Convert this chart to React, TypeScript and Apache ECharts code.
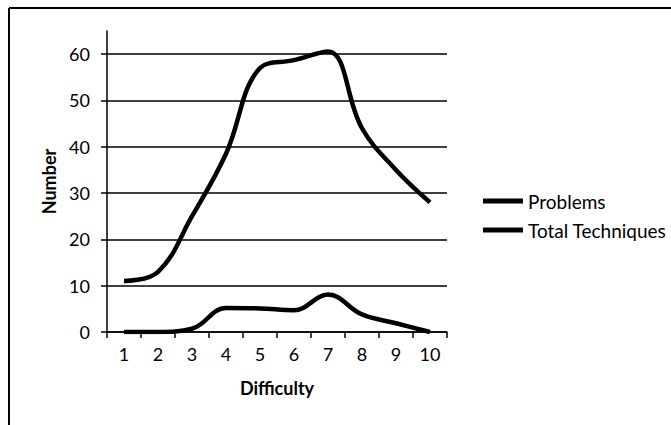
import React, { useEffect, useRef } from "react";
import * as echarts from "echarts";

const categories = ["1", "2", "3", "4", "5", "6", "7", "8", "9", "10"];
const problems = [11, 13, 25, 38.5, 57, 58.7, 60.6, 44, 35, 28];
const totalTechniques = [0, 0, 0.7, 5.2, 5.1, 4.7, 8.1, 3.8, 1.9, 0];
const seriesNames = ["Problems", "Total Techniques"];

const FONT = "Lato, 'Open Sans', sans-serif";

export default function App() {
  const ref = useRef<HTMLDivElement>(null);
  useEffect(() => {
    if (!ref.current) return;
    const chart = echarts.init(ref.current, undefined, { renderer: "svg" });
    chart.setOption({
      animation: false,
      backgroundColor: "#fff",
      textStyle: { fontFamily: FONT, color: "#000" },
      grid: { left: 107, right: 224, top: 31, bottom: 93, containLabel: false },
      graphic: [
        { type: "line", shape: { x1: 9, y1: 8, x2: 671, y2: 8 }, style: { stroke: "#000", lineWidth: 2 } },
        { type: "line", shape: { x1: 9, y1: 8, x2: 9, y2: 425 }, style: { stroke: "#000", lineWidth: 2 } },
      ],
      legend: {
        orient: "vertical",
        left: 478,
        top: 185,
        itemWidth: 40,
        itemHeight: 5,
        itemGap: 7,
        icon: "rect",
        textStyle: { fontFamily: FONT, fontSize: 19, color: "#000", lineHeight: 22 },
        data: seriesNames,
      },
      xAxis: {
        type: "category",
        data: categories,
        boundaryGap: true,
        name: "Difficulty",
        nameLocation: "middle",
        nameGap: 47,
        nameTextStyle: { fontFamily: FONT, fontWeight: "bold", fontSize: 18, color: "#000" },
        axisLine: { lineStyle: { color: "#000", width: 1.5 } },
        axisTick: { show: true, alignWithLabel: false, length: 6, lineStyle: { color: "#000", width: 1.5 } },
        axisLabel: { fontFamily: FONT, fontSize: 18, color: "#000", margin: 13 },
        splitLine: { show: false },
      },
      yAxis: {
        type: "value",
        min: 0,
        max: 65,
        interval: 10,
        name: "Number",
        nameLocation: "middle",
        nameGap: 48,
        nameTextStyle: { fontFamily: FONT, fontWeight: "bold", fontSize: 18, color: "#000" },
        axisLine: { show: true, lineStyle: { color: "#000", width: 1.5 } },
        axisTick: { show: true, length: 6, lineStyle: { color: "#000", width: 1.5 } },
        axisLabel: {
          fontFamily: FONT,
          fontSize: 18,
          color: "#000",
          margin: 17,
          showMaxLabel: false,
          formatter: (v: number) => (v % 10 === 0 ? String(v) : ""),
        },
        splitLine: { show: true, showMaxLine: false, lineStyle: { color: "#000", width: 1.5 } },
      },
      series: [
        {
          name: seriesNames[0],
          type: "line",
          data: problems,
          smooth: 0.4,
          symbol: "none",
          color: "#000",
          lineStyle: { color: "#000", width: 4.5 },
        },
        {
          name: seriesNames[1],
          type: "line",
          data: totalTechniques,
          smooth: 0.4,
          symbol: "none",
          color: "#000",
          lineStyle: { color: "#000", width: 4.5 },
        },
      ],
    });
    return () => chart.dispose();
  }, []);
  return <div ref={ref} style={{ width: 671, height: 425, position: "absolute", left: 0, top: 0 }} />;
}
